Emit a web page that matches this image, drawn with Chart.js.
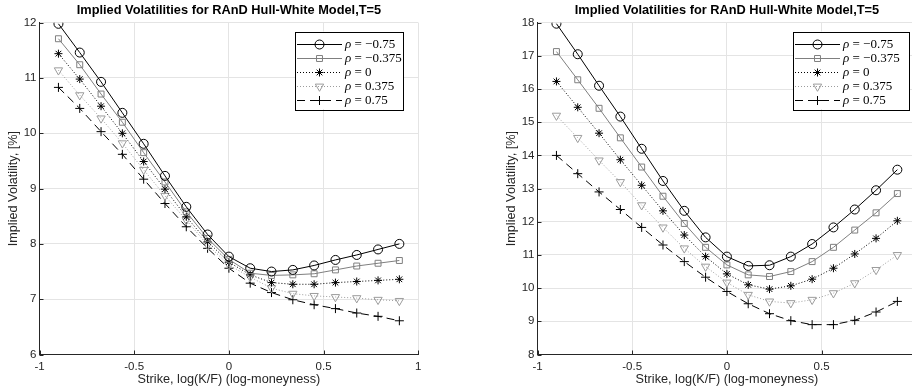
<!DOCTYPE html>
<html>
<head>
<meta charset="utf-8">
<script src="https://cdn.jsdelivr.net/npm/chart.js@4/dist/chart.umd.min.js"></script>
<style>
  html, body { margin: 0; padding: 0; background: #fff; overflow: hidden; width: 912px; height: 392px; }
  .panel { position: absolute; top: 0; width: 456px; height: 392px; }
  canvas { display: block; }
</style>
</head>
<body>
<div class="panel" style="left:0"><canvas id="panelA" width="456" height="392"></canvas></div>
<div class="panel" style="left:498px"><canvas id="panelB" width="456" height="392"></canvas></div>
<script>
// Strikes in log-moneyness, shared by every curve
const strikes = [-0.9, -0.7875, -0.675, -0.5625, -0.45, -0.3375, -0.225, -0.1125, 0,
                 0.1125, 0.225, 0.3375, 0.45, 0.5625, 0.675, 0.7875, 0.9];

// Correlation labels for the five curves
const rhoLabels = ['\u22120.75', '\u22120.375', '0', '0.375', '0.75'];

// Implied volatilities [%], first panel
const volA_rhoM075  = [11.98, 11.46, 10.93, 10.37, 9.81, 9.23, 8.67, 8.17, 7.77, 7.56, 7.50, 7.53, 7.61, 7.71, 7.80, 7.90, 8.00];
const volA_rhoM0375 = [11.71, 11.24, 10.71, 10.20, 9.65, 9.12, 8.58, 8.10, 7.72, 7.47, 7.43, 7.44, 7.46, 7.53, 7.60, 7.65, 7.70];
const volA_rho0     = [11.44, 10.98, 10.49, 10.00, 9.49, 8.99, 8.49, 8.04, 7.67, 7.44, 7.30, 7.27, 7.27, 7.30, 7.32, 7.34, 7.36];
const volA_rhoP0375 = [11.14, 10.69, 10.27, 9.82, 9.34, 8.87, 8.43, 7.98, 7.62, 7.40, 7.20, 7.10, 7.06, 7.04, 7.02, 6.99, 6.97];
const volA_rhoP075  = [10.83, 10.45, 10.03, 9.62, 9.17, 8.73, 8.31, 7.92, 7.56, 7.29, 7.12, 6.99, 6.90, 6.83, 6.75, 6.69, 6.61];

// Implied volatilities [%], second panel
const volB_rhoM075  = [17.97, 17.05, 16.10, 15.17, 14.20, 13.23, 12.33, 11.53, 10.95, 10.67, 10.69, 10.95, 11.33, 11.83, 12.37, 12.95, 13.57];
const volB_rhoM0375 = [17.13, 16.28, 15.42, 14.53, 13.65, 12.77, 11.95, 11.23, 10.70, 10.40, 10.35, 10.50, 10.80, 11.23, 11.75, 12.27, 12.85];
const volB_rho0     = [16.23, 15.45, 14.67, 13.87, 13.10, 12.33, 11.60, 10.95, 10.43, 10.10, 9.97, 10.07, 10.27, 10.60, 11.03, 11.50, 12.03];
const volB_rhoP0375 = [15.20, 14.53, 13.85, 13.20, 12.50, 11.83, 11.20, 10.65, 10.17, 9.80, 9.60, 9.55, 9.65, 9.85, 10.15, 10.55, 11.00];
const volB_rhoP075  = [14.00, 13.45, 12.90, 12.37, 11.83, 11.30, 10.80, 10.33, 9.90, 9.53, 9.23, 9.02, 8.90, 8.90, 9.03, 9.28, 9.60];

const xTicks = [-1, -0.5, 0, 0.5, 1];
const titleText = 'Implied Volatilities for RAnD Hull-White Model,T=5';
const xTitle = 'Strike, log(K/F) (log-moneyness)';
const yTitle = 'Implied Volatility, [%]';

const AXIS = '#262626';
const GRID = '#e4e4e4';
const SANS = '"Liberation Sans", Arial, sans-serif';

// Line / marker style per correlation value
const STYLES = [
  { color: '#000000', dash: [],     marker: 'circle',   radius: 4.5, rotation: 0 },
  { color: '#7f7f7f', dash: [],     marker: 'rect',     radius: 4.2, rotation: 0 },
  { color: '#000000', dash: [1, 2], marker: 'star',     radius: 4,   rotation: 0 },
  { color: '#9c9c9c', dash: [1, 2], marker: 'triangle', radius: 4.8, rotation: 180 },
  { color: '#000000', dash: [8, 5], marker: 'cross',    radius: 4.5, rotation: 0 }
];

function markerOpts(s) {
  return { pointStyle: s.marker, radius: s.radius, rotation: s.rotation, borderWidth: 1 };
}

// Title centred over the plot area, inward tick marks, boxed legend
const panelDecor = {
  id: 'panelDecor',
  beforeDatasetsDraw(chart) {
    const { ctx, chartArea: a, scales } = chart;
    ctx.save();
    ctx.strokeStyle = AXIS;
    ctx.lineWidth = 1;
    ctx.beginPath();
    scales.x.ticks.forEach(t => {
      const px = Math.round(scales.x.getPixelForValue(t.value)) + 0.5;
      ctx.moveTo(px, a.bottom); ctx.lineTo(px, a.bottom - 4);
    });
    scales.y.ticks.forEach(t => {
      const py = Math.round(scales.y.getPixelForValue(t.value)) + 0.5;
      ctx.moveTo(a.left, py); ctx.lineTo(a.left + 4, py);
    });
    ctx.stroke();
    ctx.restore();
  },
  afterDraw(chart, args, opts) {
    const { ctx, chartArea: a } = chart;
    ctx.save();
    ctx.fillStyle = '#000';
    ctx.font = 'bold 12.8px ' + SANS;
    ctx.textAlign = 'center';
    ctx.textBaseline = 'middle';
    ctx.fillText(titleText, (a.left + a.right) / 2, 10.5);

    // legend box
    const bx = opts.boxX, by = 31.5, bw = opts.boxW, bh = 77.5;
    ctx.fillStyle = '#fff';
    ctx.fillRect(bx, by, bw, bh);
    ctx.strokeStyle = '#000';
    ctx.lineWidth = 1;
    ctx.setLineDash([]);
    ctx.strokeRect(Math.round(bx) + 0.5, Math.round(by) + 0.5, Math.round(bw), Math.round(bh));
    chart.data.datasets.forEach((ds, i) => {
      const s = STYLES[i];
      const y = Math.round(by + 12 + i * 14) + 0.5;
      const x0 = bx + 2, x1 = bx + 47;
      ctx.strokeStyle = s.color;
      ctx.lineWidth = 1;
      ctx.setLineDash(s.dash);
      ctx.beginPath(); ctx.moveTo(x0, y); ctx.lineTo(x1, y); ctx.stroke();
      ctx.setLineDash([]);
      ctx.fillStyle = 'rgba(0,0,0,0)';
      Chart.helpers.drawPoint(ctx, markerOpts(s), (x0 + x1) / 2, y);
      // legend text: italic rho, then the value
      const tx = bx + 50;
      ctx.fillStyle = '#000';
      ctx.textAlign = 'left';
      ctx.textBaseline = 'middle';
      ctx.font = 'italic 13px "Liberation Serif", serif';
      ctx.fillText('\u03c1', tx, y);
      const w = ctx.measureText('\u03c1').width;
      ctx.font = '13px "Liberation Serif", serif';
      ctx.fillText(' = ' + rhoLabels[i], tx + w, y);
    });
    ctx.restore();
  }
};

function buildPanel(canvasId, series, yMin, yMax, legendBox) {
  const datasets = series.map((vals, i) => {
    const s = STYLES[i];
    return {
      label: '\u03c1 = ' + rhoLabels[i],
      data: strikes.map((x, j) => ({ x: x, y: vals[j] })),
      borderColor: s.color,
      borderWidth: 1,
      borderDash: s.dash,
      tension: 0,
      fill: false,
      pointStyle: s.marker,
      pointRadius: s.radius,
      pointRotation: s.rotation,
      pointBorderColor: s.color,
      pointBackgroundColor: 'rgba(0,0,0,0)',
      pointBorderWidth: 1
    };
  });

  return new Chart(document.getElementById(canvasId), {
    type: 'line',
    data: { datasets },
    options: {
      responsive: false,
      animation: false,
      events: [],
      layout: { padding: { top: 22.7, right: 37.7, left: 0, bottom: 0 } },
      plugins: {
        legend: { display: false },
        title: { display: false },
        tooltip: { enabled: false },
        panelDecor: legendBox
      },
      scales: {
        x: {
          type: 'linear',
          min: -1, max: 1,
          afterBuildTicks: sc => { sc.ticks = xTicks.map(v => ({ value: v })); },
          afterFit: sc => { sc.height = 37.5; },
          grid: { color: GRID, lineWidth: 1, drawTicks: false },
          border: { color: AXIS, width: 1 },
          ticks: {
            color: AXIS, padding: 5, maxRotation: 0, autoSkip: false,
            font: { family: SANS, size: 11.5 },
            callback: v => String(v)
          },
          title: {
            display: true, text: xTitle, color: AXIS,
            font: { family: SANS, size: 12.7 },
            padding: { top: 0, bottom: 4.5 }
          }
        },
        y: {
          type: 'linear',
          min: yMin, max: yMax,
          afterFit: sc => { sc.width = 39.5; },
          grid: { color: GRID, lineWidth: 1, drawTicks: false },
          border: { color: AXIS, width: 1 },
          ticks: {
            stepSize: 1, color: AXIS, padding: 3,
            font: { family: SANS, size: 11.5 },
            callback: v => String(v)
          },
          title: {
            display: true, text: yTitle, color: AXIS,
            font: { family: SANS, size: 12.7 },
            padding: { top: 6, bottom: 0 }
          }
        }
      }
    },
    plugins: [panelDecor]
  });
}

buildPanel('panelA',
  [volA_rhoM075, volA_rhoM0375, volA_rho0, volA_rhoP0375, volA_rhoP075],
  6, 12, { boxX: 295, boxW: 108 });

buildPanel('panelB',
  [volB_rhoM075, volB_rhoM0375, volB_rho0, volB_rhoP0375, volB_rhoP075],
  8, 18, { boxX: 295, boxW: 116 });
</script>
</body>
</html>
